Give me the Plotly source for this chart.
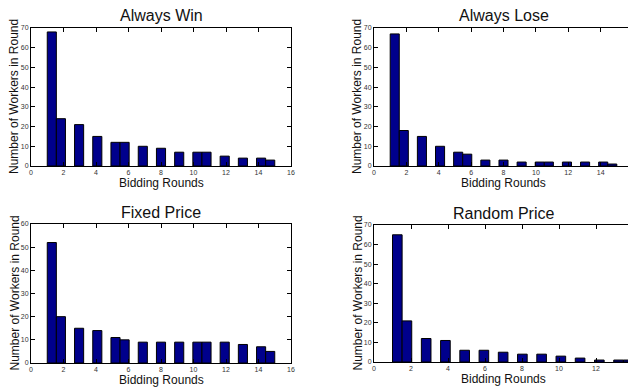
import math
import plotly.graph_objects as go

# ---- data (counts per bidding round) ----
rounds_win = list(range(1, 16))
counts_win = [68, 24, 21, 15, 12, 12, 10, 9, 7, 7, 7, 5, 4, 4, 3]

rounds_lose = list(range(1, 16))
counts_lose = [67, 18, 15, 10, 7, 6, 3, 3, 2, 2, 2, 2, 2, 2, 1]

rounds_fixed = list(range(1, 16))
counts_fixed = [52, 20, 15, 14, 11, 10, 9, 9, 9, 9, 9, 9, 8, 7, 5]

rounds_random = list(range(1, 15))
counts_random = [65, 21, 12, 11, 6, 6, 5, 4, 4, 3, 2, 1, 1, 1]

titles = ["Always Win", "Always Lose", "Fixed Price", "Random Price"]
x_ranges = [16, 16, 16, 14]
y_ranges = [70, 70, 60, 70]

N_BINS = 25  # MATLAB hist(...,25) style binning


def hist_bins(rounds):
    lo, hi = min(rounds), max(rounds)
    w = (hi - lo) / N_BINS
    centers = []
    for k in rounds:
        i = min(int(math.floor((k - lo) / w + 1e-9)), N_BINS - 1)
        centers.append(lo + w * (i + 0.5))
    return centers, w


datasets = [
    (rounds_win, counts_win),
    (rounds_lose, counts_lose),
    (rounds_fixed, counts_fixed),
    (rounds_random, counts_random),
]

# page has an 8px body margin; the figure is placed at (8, 8)
OFF = 8
W, H = 628, 380


def px_x(p):
    return (p - OFF) / W


def px_y(p):
    return 1 - (p - OFF) / H


# plot-area boxes in page pixels (left, right, top, bottom)
boxes = [
    (31, 291, 28, 166),
    (374, 633, 28, 166),
    (31, 291, 224, 363),
    (374, 633, 225, 362),
]

fig = go.Figure()
layout = dict(
    width=W, height=H, autosize=False,
    margin=dict(l=0, r=0, t=0, b=0),
    paper_bgcolor="white", plot_bgcolor="white",
    showlegend=False,
    font=dict(family="Liberation Sans, Arial, sans-serif", color="black"),
)
annotations = []

for idx, ((rounds, counts), box) in enumerate(zip(datasets, boxes)):
    n = idx + 1
    xa = "x" if n == 1 else f"x{n}"
    ya = "y" if n == 1 else f"y{n}"
    centers, w = hist_bins(rounds)
    fig.add_trace(go.Bar(
        x=centers, y=counts, width=w,
        marker=dict(color="#00008C", line=dict(color="black", width=1)),
        xaxis=xa, yaxis=ya, hoverinfo="x+y",
    ))
    l, r, t, b = box
    xdom = [px_x(l), min(px_x(r), 1.0)]
    ydom = [px_y(b), px_y(t)]
    axis_common = dict(
        showgrid=False, zeroline=False, showline=True, linecolor="black",
        linewidth=1, mirror="ticks", ticks="inside", ticklen=4,
        tickcolor="black", tickfont=dict(size=7, color="#333333"),
        automargin=False, fixedrange=True,
    )
    layout["xaxis" if n == 1 else f"xaxis{n}"] = dict(
        domain=xdom, range=[0, x_ranges[idx]], dtick=2, tick0=0,
        anchor=ya, **axis_common)
    layout["yaxis" if n == 1 else f"yaxis{n}"] = dict(
        domain=ydom, range=[0, y_ranges[idx]], dtick=10, tick0=0,
        anchor=xa, **axis_common)

    cx = px_x((l + r) / 2)
    cy = (t + b) / 2
    annotations.append(dict(
        text=titles[idx], xref="paper", yref="paper", x=cx, y=px_y(t - 12),
        xanchor="center", yanchor="middle", showarrow=False,
        font=dict(size=16, color="#111111")))
    annotations.append(dict(
        text="Bidding Rounds", xref="paper", yref="paper", x=cx,
        y=px_y(b + 17), xanchor="center", yanchor="middle",
        showarrow=False, font=dict(size=12, color="#111111")))
    annotations.append(dict(
        text="Number of Workers in Round", xref="paper", yref="paper",
        x=px_x(l - 17), y=px_y(cy), xanchor="center", yanchor="middle",
        textangle=-90, showarrow=False, font=dict(size=12, color="#111111")))

layout["annotations"] = annotations
fig.update_layout(**layout)
fig.write_html("out.html")
